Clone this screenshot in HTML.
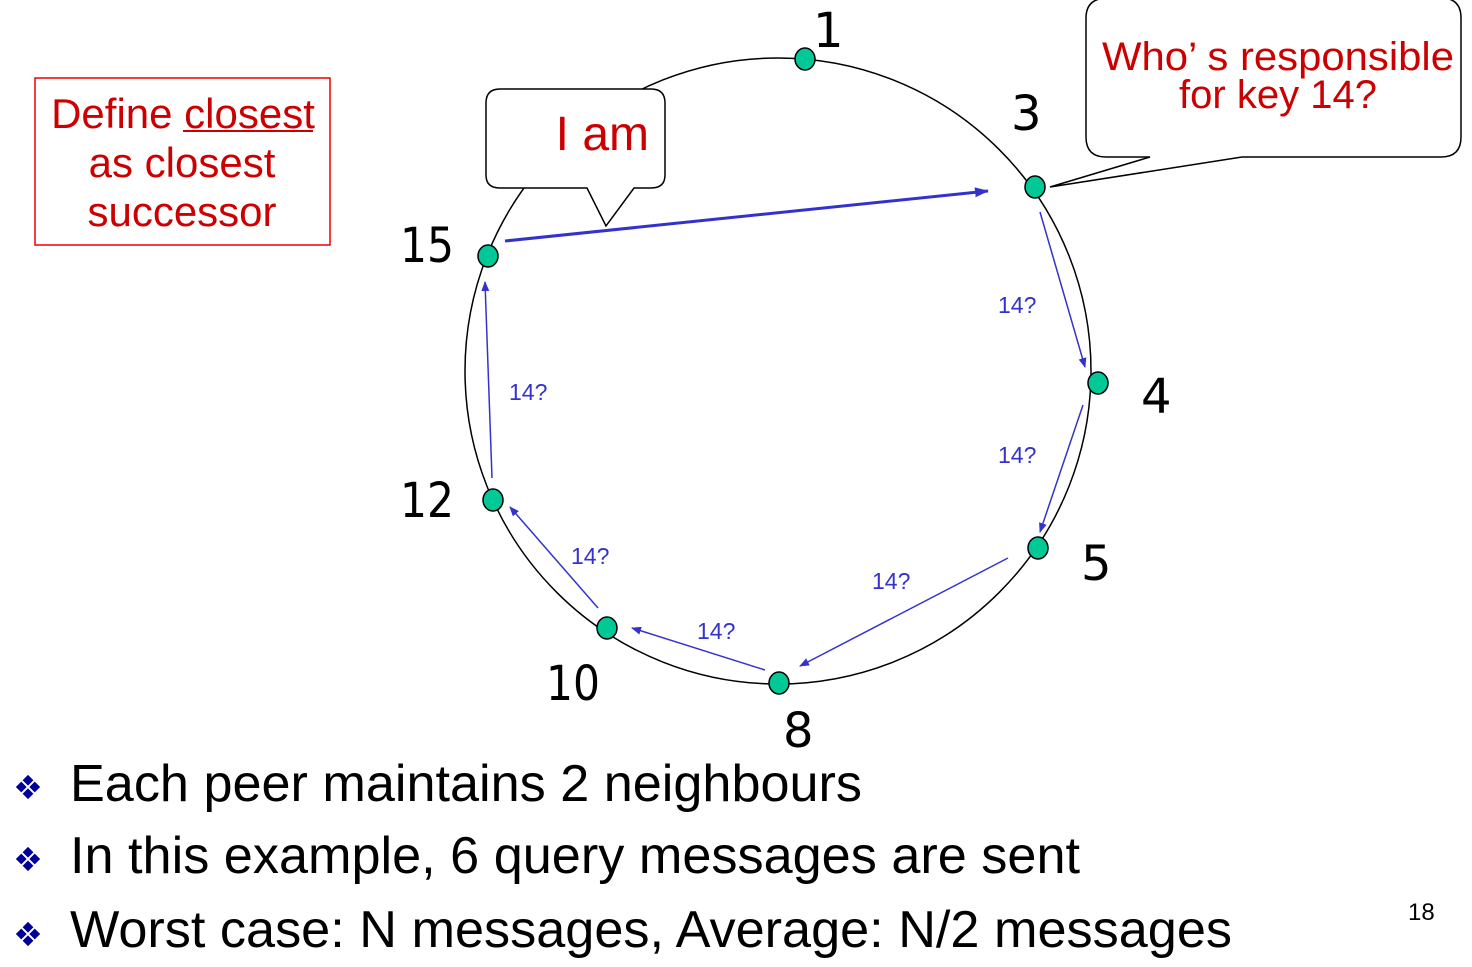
<!DOCTYPE html>
<html><head><meta charset="utf-8"><style>
html,body{margin:0;padding:0;background:#fff;}
svg{display:block;}
</style></head><body>
<svg width="1472" height="967" viewBox="0 0 1472 967" xmlns="http://www.w3.org/2000/svg" font-family="Liberation Sans, sans-serif">
<defs>
<marker id="a" markerWidth="10" markerHeight="8" refX="9" refY="4" orient="auto" markerUnits="userSpaceOnUse"><path d="M0,0 L10,4 L0,8 z" fill="#3333cc"/></marker>
<marker id="b" markerWidth="14" markerHeight="10" refX="13" refY="5" orient="auto" markerUnits="userSpaceOnUse"><path d="M0,0 L14,5 L0,10 z" fill="#3333cc"/></marker>
</defs>
<ellipse cx="778" cy="371" rx="313" ry="313" fill="none" stroke="#000" stroke-width="1.5"/>
<path d="M500,89 H651 Q665,89 665,103 V175 Q665,188 651,188 H634 L606,226 L587,188 H500 Q486,188 486,175 V103 Q486,89 500,89 Z" fill="#fff" stroke="#000" stroke-width="1.5"/>
<text x="649" y="150" font-size="48" fill="#cc0000" text-anchor="end">I am</text>
<path d="M1108,-2 H1441 Q1461,-2 1461,18 V137 Q1461,157 1441,157 H1242 L1050,187 L1150,157 H1106 Q1086,157 1086,137 V18 Q1086,-2 1108,-2 Z" fill="#fff" stroke="#000" stroke-width="1.5"/>
<text x="1102" y="70" font-size="40" fill="#cc0000" textLength="352" lengthAdjust="spacingAndGlyphs">Who’ s responsible</text>
<text x="1278" y="108" font-size="40" fill="#cc0000" text-anchor="middle">for key 14?</text>
<rect x="35" y="78" width="295" height="167" fill="none" stroke="#ee0000" stroke-width="1.5"/>
<text x="183" y="128" font-size="42" fill="#cc0000" text-anchor="middle">Define closest</text>
<line x1="183" y1="131" x2="313" y2="131" stroke="#cc0000" stroke-width="2"/>
<text x="182" y="177" font-size="42" fill="#cc0000" text-anchor="middle">as closest</text>
<text x="182" y="226" font-size="42" fill="#cc0000" text-anchor="middle">successor</text>
<g stroke="#3333cc" fill="none">
<line x1="505" y1="241" x2="988" y2="191" stroke-width="3" marker-end="url(#b)"/>
<line x1="1040" y1="212" x2="1085" y2="367" stroke-width="1.5" marker-end="url(#a)"/>
<line x1="1083" y1="405" x2="1040" y2="532" stroke-width="1.5" marker-end="url(#a)"/>
<line x1="1008" y1="558" x2="800" y2="666" stroke-width="1.5" marker-end="url(#a)"/>
<line x1="765" y1="670" x2="632" y2="628" stroke-width="1.5" marker-end="url(#a)"/>
<line x1="598" y1="608" x2="510" y2="507" stroke-width="1.5" marker-end="url(#a)"/>
<line x1="492" y1="478" x2="485" y2="282" stroke-width="1.5" marker-end="url(#a)"/>
</g>
<g font-size="23" fill="#3333cc">
<text x="998" y="313">14?</text>
<text x="998" y="463">14?</text>
<text x="872" y="589">14?</text>
<text x="697" y="639">14?</text>
<text x="571" y="564">14?</text>
<text x="509" y="400">14?</text>
</g>
<g fill="#00c896" stroke="#000" stroke-width="1.5">
<ellipse cx="805" cy="59" rx="10" ry="11"/>
<ellipse cx="1035" cy="187" rx="10" ry="11"/>
<ellipse cx="1098" cy="383" rx="10" ry="11"/>
<ellipse cx="1038" cy="548" rx="10" ry="11"/>
<ellipse cx="779" cy="683" rx="10" ry="11"/>
<ellipse cx="607" cy="628" rx="10" ry="11"/>
<ellipse cx="493" cy="500" rx="10" ry="11"/>
<ellipse cx="488" cy="256" rx="10" ry="11"/>
</g>
<g font-size="48" fill="#000" font-family="DejaVu Sans, sans-serif">
<text x="813" y="47">1</text>
<text x="1011" y="130">3</text>
<text x="1141" y="413">4</text>
<text x="1081" y="580">5</text>
<text x="783" y="747">8</text>
<text x="546" y="700" textLength="54" lengthAdjust="spacingAndGlyphs">10</text>
<text x="400" y="517" textLength="54" lengthAdjust="spacingAndGlyphs">12</text>
<text x="400" y="262" textLength="54" lengthAdjust="spacingAndGlyphs">15</text>
</g>
<g fill="#000099">
<g transform="translate(28,787) scale(1.35)"><path d="M0,-9 L4,-5 L0,-1 L-4,-5Z M0,1 L4,5 L0,9 L-4,5Z M-5,-4 L-1,0 L-5,4 L-9,0Z M5,-4 L9,0 L5,4 L1,0Z"/></g>
<g transform="translate(28,859) scale(1.35)"><path d="M0,-9 L4,-5 L0,-1 L-4,-5Z M0,1 L4,5 L0,9 L-4,5Z M-5,-4 L-1,0 L-5,4 L-9,0Z M5,-4 L9,0 L5,4 L1,0Z"/></g>
<g transform="translate(28,934) scale(1.35)"><path d="M0,-9 L4,-5 L0,-1 L-4,-5Z M0,1 L4,5 L0,9 L-4,5Z M-5,-4 L-1,0 L-5,4 L-9,0Z M5,-4 L9,0 L5,4 L1,0Z"/></g>
</g>
<g font-size="52" fill="#000">
<text x="70" y="801" textLength="792" lengthAdjust="spacingAndGlyphs">Each peer maintains 2 neighbours</text>
<text x="70" y="873" textLength="1010" lengthAdjust="spacingAndGlyphs">In this example, 6 query messages are sent</text>
<text x="70" y="947" textLength="1162" lengthAdjust="spacingAndGlyphs">Worst case: N messages, Average: N/2 messages</text>
</g>
<text x="1408" y="920" font-size="24" fill="#000">18</text>
</svg>
</body></html>
